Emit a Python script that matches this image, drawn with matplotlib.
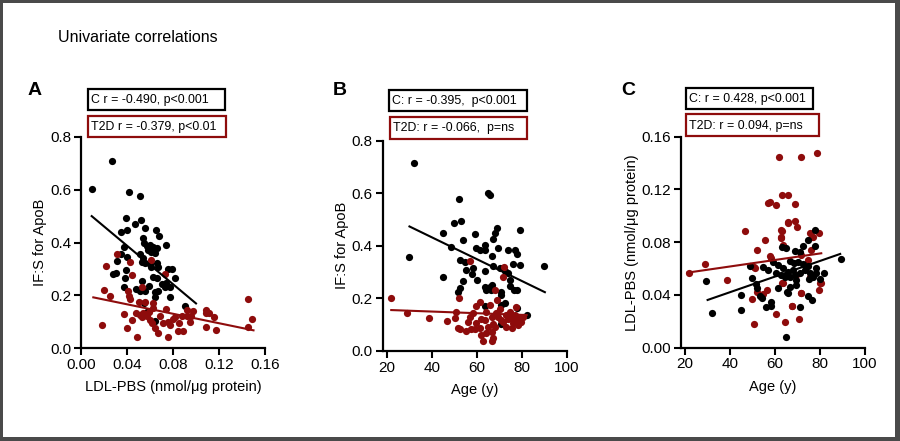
import matplotlib
matplotlib.use("Agg")
import matplotlib.pyplot as plt
from matplotlib.patches import Rectangle
import numpy as np

plt.rcParams['font.family'] = ['Liberation Sans', 'DejaVu Sans']

# ---------------- DATA ----------------
# Panel A: LDL-PBS (x) vs IF:S for ApoB (y)
a_ctrl_x = [0.0093, 0.0267, 0.0417, 0.0513, 0.0391, 0.047, 0.052, 0.0554, 0.040, 0.035,
            0.065, 0.068, 0.054, 0.055, 0.057, 0.060, 0.063, 0.066, 0.074, 0.058,
            0.061, 0.064, 0.037, 0.035, 0.051, 0.054, 0.040, 0.031, 0.053, 0.056,
            0.060, 0.066, 0.067, 0.030, 0.028, 0.039, 0.061, 0.076, 0.079, 0.063,
            0.066, 0.038, 0.053, 0.070, 0.074, 0.077, 0.082, 0.037, 0.048, 0.051,
            0.056, 0.059, 0.064, 0.067, 0.073, 0.077, 0.064, 0.055, 0.090, 0.057, 0.064]
a_ctrl_y = [0.603, 0.710, 0.593, 0.576, 0.493, 0.469, 0.484, 0.456, 0.447, 0.441,
            0.446, 0.423, 0.418, 0.399, 0.387, 0.391, 0.384, 0.378, 0.389, 0.372,
            0.365, 0.359, 0.382, 0.358, 0.356, 0.340, 0.344, 0.330, 0.325, 0.321,
            0.317, 0.321, 0.308, 0.286, 0.281, 0.296, 0.306, 0.300, 0.300, 0.271,
            0.267, 0.264, 0.254, 0.241, 0.248, 0.233, 0.267, 0.233, 0.222, 0.217,
            0.217, 0.236, 0.214, 0.216, 0.233, 0.192, 0.192, 0.172, 0.161, 0.135, 0.102]
a_t2d_x = [0.0316, 0.043, 0.022, 0.044, 0.053, 0.061, 0.073, 0.020, 0.025, 0.041,
           0.042, 0.043, 0.050, 0.056, 0.063, 0.018, 0.037, 0.040, 0.044, 0.049,
           0.048, 0.051, 0.053, 0.054, 0.057, 0.059, 0.060, 0.063, 0.062, 0.064,
           0.067, 0.069, 0.071, 0.074, 0.076, 0.077, 0.076, 0.080, 0.082, 0.084,
           0.085, 0.089, 0.088, 0.092, 0.095, 0.096, 0.109, 0.109, 0.1085, 0.111,
           0.116, 0.117, 0.145, 0.149, 0.145, 0.097, 0.092]
a_t2d_y = [0.356, 0.326, 0.311, 0.278, 0.233, 0.334, 0.281, 0.220, 0.198, 0.217,
           0.198, 0.187, 0.173, 0.176, 0.169, 0.087, 0.129, 0.075, 0.105, 0.043,
           0.131, 0.125, 0.116, 0.131, 0.121, 0.138, 0.106, 0.150, 0.094, 0.075,
           0.056, 0.121, 0.096, 0.147, 0.100, 0.087, 0.043, 0.109, 0.119, 0.066,
           0.094, 0.066, 0.121, 0.144, 0.097, 0.121, 0.131, 0.081, 0.145, 0.132,
           0.116, 0.069, 0.185, 0.110, 0.079, 0.142, 0.120]
a_ctrl_fit_x = [0.0093, 0.100]
a_ctrl_fit_y = [0.500, 0.169]
a_t2d_fit_x = [0.0107, 0.150]
a_t2d_fit_y = [0.192, 0.067]

# Panel B: Age (x) vs IF:S for ApoB (y)
b_ctrl_x = [52.0, 65.0, 65.7, 49.9, 52.9, 45.0, 53.9, 59.1, 68.8, 68.3,
            67.3, 79.2, 48.7, 59.8, 61.3, 63.8, 63.8, 69.3, 74.0, 77.0,
            78.0, 67.0, 76.0, 79.2, 52.7, 55.0, 55.1, 58.4, 57.7, 63.6,
            67.3, 70.3, 72.5, 73.8, 74.7, 74.9, 76.5, 78.0, 45.0, 53.9,
            52.7, 51.7, 63.6, 65.8, 67.0, 64.3, 66.5, 71.0, 71.0, 72.5,
            70.7, 63.9, 78.0, 82.5, 71.0, 32.0, 29.8, 90.0, 60.3]
b_ctrl_y = [0.577, 0.601, 0.592, 0.486, 0.494, 0.447, 0.422, 0.444, 0.469, 0.447,
            0.425, 0.458, 0.393, 0.390, 0.384, 0.403, 0.384, 0.390, 0.384, 0.384,
            0.369, 0.359, 0.331, 0.327, 0.346, 0.336, 0.308, 0.314, 0.292, 0.302,
            0.321, 0.314, 0.302, 0.295, 0.270, 0.247, 0.232, 0.232, 0.282, 0.266,
            0.238, 0.225, 0.244, 0.241, 0.251, 0.232, 0.232, 0.225, 0.213, 0.183,
            0.174, 0.171, 0.162, 0.137, 0.102, 0.714, 0.358, 0.324, 0.270]
b_t2d_x = [22.0, 28.9, 39.0, 46.9, 50.2, 50.9, 51.7, 52.7, 52.0, 56.9,
           56.1, 57.6, 55.1, 59.1, 58.4, 59.9, 61.3, 59.9, 61.3, 62.1,
           62.8, 64.3, 63.6, 64.3, 65.8, 66.6, 67.3, 66.6, 67.3, 68.0,
           68.5, 69.5, 70.3, 70.6, 71.7, 72.2, 68.0, 68.8, 71.7, 73.2,
           74.0, 74.7, 75.5, 76.2, 77.0, 77.7, 78.4, 79.2, 79.9, 80.6,
           77.4, 75.5, 73.2, 65.0, 62.1, 66.6, 56.9]
b_t2d_y = [0.202, 0.145, 0.125, 0.114, 0.124, 0.149, 0.086, 0.083, 0.200, 0.130,
           0.111, 0.082, 0.077, 0.082, 0.145, 0.171, 0.187, 0.105, 0.086, 0.060,
           0.038, 0.067, 0.117, 0.149, 0.174, 0.130, 0.102, 0.070, 0.048, 0.092,
           0.143, 0.130, 0.158, 0.117, 0.282, 0.320, 0.232, 0.194, 0.111, 0.136,
           0.120, 0.149, 0.124, 0.105, 0.136, 0.117, 0.098, 0.124, 0.111, 0.130,
           0.168, 0.086, 0.090, 0.092, 0.120, 0.038, 0.342]
b_ctrl_fit_x = [30.1, 90.3]
b_ctrl_fit_y = [0.473, 0.223]
b_t2d_fit_x = [22.0, 82.2]
b_t2d_fit_y = [0.155, 0.136]

# Panel C: Age (x) vs LDL-PBS (y)
c_ctrl_x = [77.7, 74.7, 72.5, 77.7, 63.0, 65.1, 68.8, 71.0, 59.2, 54.8,
            48.9, 57.0, 61.4, 66.6, 68.4, 70.3, 72.5, 74.7, 73.3, 68.1,
            65.9, 63.6, 60.4, 62.9, 64.4, 66.6, 68.8, 71.0, 75.4, 76.9,
            78.4, 81.6, 79.9, 75.1, 69.3, 66.6, 69.6, 61.4, 65.4, 65.9,
            50.1, 51.6, 52.1, 53.3, 54.5, 58.2, 58.5, 56.3, 44.9, 44.9,
            74.7, 76.6, 71.0, 64.8, 29.7, 32.1, 89.5, 78.3]
c_ctrl_y = [0.0892, 0.0817, 0.0771, 0.0771, 0.0761, 0.0753, 0.0733, 0.0728, 0.0652, 0.0609,
            0.0619, 0.0589, 0.0627, 0.0660, 0.0639, 0.0652, 0.0634, 0.0619, 0.0589, 0.0589,
            0.0576, 0.0602, 0.0569, 0.0551, 0.0538, 0.0538, 0.0551, 0.0564, 0.0564, 0.0538,
            0.0564, 0.0569, 0.0518, 0.0518, 0.0513, 0.0462, 0.0475, 0.0450, 0.0425, 0.0412,
            0.0526, 0.0483, 0.0450, 0.0392, 0.0374, 0.0349, 0.0318, 0.0311, 0.0400, 0.0286,
            0.0392, 0.0362, 0.0306, 0.0084, 0.0506, 0.0265, 0.0673, 0.0608]
c_t2d_x = [61.9, 71.8, 78.7, 63.0, 65.9, 57.0, 58.0, 60.7, 68.8, 65.9,
           68.8, 69.8, 47.0, 63.0, 62.6, 55.8, 79.6, 75.4, 76.6, 63.6,
           51.9, 57.7, 58.5, 76.2, 74.7, 71.8, 39.0, 50.8, 69.2, 75.4,
           79.9, 79.4, 51.9, 54.8, 50.0, 56.7, 63.6, 71.8, 60.7, 64.4,
           67.8, 70.7, 50.8, 22.0, 29.0, 62.9, 62.9, 63.4, 67.6, 71.8,
           76.8, 80.6, 65.8, 51.3]
c_t2d_y = [0.1444, 0.1444, 0.1480, 0.1158, 0.1158, 0.1094, 0.1102, 0.1082, 0.1087, 0.0956,
           0.0960, 0.0912, 0.0887, 0.0887, 0.0830, 0.0817, 0.0872, 0.0872, 0.0842, 0.0779,
           0.0741, 0.0695, 0.0682, 0.0741, 0.0665, 0.0703, 0.0513, 0.0609, 0.0551, 0.0538,
           0.0488, 0.0437, 0.0420, 0.0407, 0.0367, 0.0438, 0.0488, 0.0417, 0.0255, 0.0197,
           0.0316, 0.0218, 0.0177, 0.0564, 0.0632, 0.0893, 0.0842, 0.0488, 0.0316, 0.0412,
           0.0843, 0.0488, 0.0948, 0.0607]
c_ctrl_fit_x = [30.2, 89.0]
c_ctrl_fit_y = [0.0362, 0.0711]
c_t2d_fit_x = [21.2, 80.6]
c_t2d_fit_y = [0.0569, 0.0716]

a_xticks = [0.00, 0.04, 0.08, 0.12, 0.16]
ifs_yticks = [0.0, 0.2, 0.4, 0.6, 0.8]
age_xticks = [20, 40, 60, 80, 100]
ldl_yticks = [0.00, 0.04, 0.08, 0.12, 0.16]

a_labels = ["C r = -0.490, p<0.001", "T2D r = -0.379, p<0.01"]
b_labels = ["C: r = -0.395,  p<0.001", "T2D: r = -0.066,  p=ns"]
c_labels = ["C: r = 0.428, p<0.001", "T2D: r = 0.094, p=ns"]

# ---------------- STYLE ----------------
W, H = 900, 441
BLACK = '#000000'
RED = '#8e0c0c'
fig = plt.figure(figsize=(W / 100, H / 100), dpi=100)
fig.patch.set_facecolor('white')


def px_rect(x0, y0, x1, y1):
    """pixel box (top-left origin) -> figure fraction [l, b, w, h]"""
    return [x0 / W, 1 - y1 / H, (x1 - x0) / W, (y1 - y0) / H]


def style_axes(ax):
    for s in ['top', 'right']:
        ax.spines[s].set_visible(False)
    for s in ['left', 'bottom']:
        ax.spines[s].set_linewidth(1.6)
    ax.tick_params(direction='out', length=5, width=1.5, labelsize=11, pad=2)


S = 27
LAB = 10.5
# Panel A
axA = fig.add_axes(px_rect(81, 137, 265, 348))
axA.scatter(a_ctrl_x, a_ctrl_y, s=S, color=BLACK, linewidths=0, clip_on=False, zorder=2)
axA.scatter(a_t2d_x, a_t2d_y, s=S, color=RED, linewidths=0, clip_on=False, zorder=2)
axA.plot(a_ctrl_fit_x, a_ctrl_fit_y, color=BLACK, lw=1.5, zorder=3)
axA.plot(a_t2d_fit_x, a_t2d_fit_y, color=RED, lw=1.5, zorder=3)
axA.set_xlim(0, 0.16)
axA.set_ylim(0, 0.8)
axA.set_xticks(a_xticks)
axA.set_xticklabels([f"{v:.2f}" for v in a_xticks])
axA.set_yticks(ifs_yticks)
axA.set_yticklabels([f"{v:.1f}" for v in ifs_yticks])
axA.set_xlabel("LDL-PBS (nmol/\u03bcg protein)", fontsize=LAB, labelpad=6)
axA.set_ylabel("IF:S for ApoB", fontsize=LAB, labelpad=2)
style_axes(axA)

# Panel B
axB = fig.add_axes(px_rect(382.7, 140.5, 566.7, 350.8))
axB.scatter(b_ctrl_x, b_ctrl_y, s=S, color=BLACK, linewidths=0, clip_on=False, zorder=2)
axB.scatter(b_t2d_x, b_t2d_y, s=S, color=RED, linewidths=0, clip_on=False, zorder=2)
axB.plot(b_ctrl_fit_x, b_ctrl_fit_y, color=BLACK, lw=1.5, zorder=3)
axB.plot(b_t2d_fit_x, b_t2d_fit_y, color=RED, lw=1.5, zorder=3)
axB.set_xlim(18.2, 100)
axB.set_ylim(0, 0.8)
axB.set_xticks(age_xticks)
axB.set_xticklabels([str(v) for v in age_xticks])
axB.set_yticks(ifs_yticks)
axB.set_yticklabels([f"{v:.1f}" for v in ifs_yticks])
axB.set_xlabel("Age (y)", fontsize=LAB, labelpad=6)
axB.set_ylabel("IF:S for ApoB", fontsize=LAB, labelpad=2)
style_axes(axB)

# Panel C
axC = fig.add_axes(px_rect(681, 136.7, 865, 347.7))
axC.scatter(c_t2d_x, c_t2d_y, s=S, color=RED, linewidths=0, clip_on=False, zorder=2)
axC.scatter(c_ctrl_x, c_ctrl_y, s=S, color=BLACK, linewidths=0, clip_on=False, zorder=2)
axC.plot(c_t2d_fit_x, c_t2d_fit_y, color=RED, lw=1.5, zorder=3)
axC.plot(c_ctrl_fit_x, c_ctrl_fit_y, color=BLACK, lw=1.5, zorder=3)
axC.set_xlim(18.4, 100)
axC.set_ylim(0, 0.16)
axC.set_xticks(age_xticks)
axC.set_xticklabels([str(v) for v in age_xticks])
axC.set_yticks(ldl_yticks)
axC.set_yticklabels([f"{v:.2f}" for v in ldl_yticks])
axC.set_xlabel("Age (y)", fontsize=LAB, labelpad=6)
axC.set_ylabel("LDL-PBS (nmol/\u03bcg protein)", fontsize=LAB, labelpad=2)
style_axes(axC)

# Title and panel letters
fig.text(58 / W, 1 - 38 / H, "Univariate correlations", fontsize=11.5, va='center', ha='left')
for letter, x in [("A", 28), ("B", 333), ("C", 621)]:
    fig.text(x / W, 1 - 91 / H, letter, fontsize=14, fontweight='bold', va='center', ha='left')

# Correlation boxes
boxes = [
    (a_labels[0], BLACK, (88, 89, 225, 110)),
    (a_labels[1], RED, (88, 116, 226, 137)),
    (b_labels[0], BLACK, (389, 90, 527, 111)),
    (b_labels[1], RED, (390, 117, 527, 139)),
    (c_labels[0], BLACK, (686, 88, 813, 109)),
    (c_labels[1], RED, (686, 114, 819, 136)),
]
for txt, col, (x0, y0, x1, y1) in boxes:
    l, b, w, h = px_rect(x0, y0, x1, y1)
    fig.add_artist(Rectangle((l, b), w, h, transform=fig.transFigure, fill=False,
                             edgecolor=col, linewidth=1.6))
    fig.text((x0 + 3) / W, 1 - ((y0 + y1) / 2 + 0.5) / H, txt, fontsize=8.9,
             va='center', ha='left', color='black')

# Outer dark-grey frame
FRAME = '#4a4a4a'
for (x0, y0, x1, y1) in [(0, 0, W, 3), (0, 437, W, H), (0, 0, 3, H), (895, 0, W, H)]:
    l, b, w, h = px_rect(x0, y0, x1, y1)
    fig.add_artist(Rectangle((l, b), w, h, transform=fig.transFigure, facecolor=FRAME,
                             edgecolor='none'))

fig.savefig("out.png", dpi=100)
